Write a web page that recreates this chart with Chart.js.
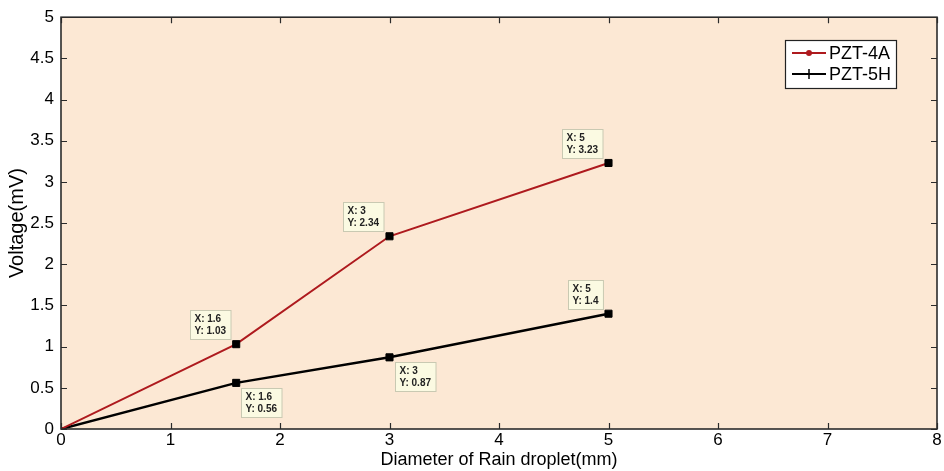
<!DOCTYPE html>
<html>
<head>
<meta charset="utf-8">
<script src="https://cdn.jsdelivr.net/npm/chart.js@4.4.1/dist/chart.umd.min.js"></script>
<style>
  html, body { margin: 0; padding: 0; background: #fff; }
  #wrap { width: 944px; height: 471px; }
</style>
</head>
<body>
<div id="wrap"><canvas id="chart"></canvas></div>
<script>
// values
const diameters = [0, 1.6, 3, 5];
const pzt4a = [0, 1.03, 2.34, 3.23];
const pzt5h = [0, 0.56, 0.87, 1.4];
const xTicks = [0, 1, 2, 3, 4, 5, 6, 7, 8];
const yTicks = [0, 0.5, 1, 1.5, 2, 2.5, 3, 3.5, 4, 4.5, 5];
const seriesNames = ['PZT-4A', 'PZT-5H'];

const RED = '#AE1A1E';
const PEACH = '#FCE8D4';

const pts = (ys) => diameters.map((x, i) => ({ x: x, y: ys[i] }));

// peach plot area behind the lines
const areaPlugin = {
  id: 'area',
  beforeDatasetsDraw(chart) {
    const { ctx, chartArea: a } = chart;
    ctx.save();
    ctx.fillStyle = PEACH;
    ctx.fillRect(a.left, a.top, a.right - a.left, a.bottom - a.top);
    ctx.restore();
  }
};

// matlab style box with inward ticks on all four sides
const boxPlugin = {
  id: 'box',
  afterDatasetsDraw(chart) {
    const { ctx, chartArea: a, scales } = chart;
    const len = 6;
    ctx.save();
    ctx.strokeStyle = '#2b2b2b';
    ctx.lineWidth = 1.2;
    ctx.beginPath();
    xTicks.forEach(v => {
      const px = Math.round(scales.x.getPixelForValue(v)) + 0.5;
      ctx.moveTo(px, a.bottom); ctx.lineTo(px, a.bottom - len);
      ctx.moveTo(px, a.top); ctx.lineTo(px, a.top + len);
    });
    yTicks.forEach(v => {
      const py = Math.round(scales.y.getPixelForValue(v)) + 0.5;
      ctx.moveTo(a.left, py); ctx.lineTo(a.left + len, py);
      ctx.moveTo(a.right, py); ctx.lineTo(a.right - len, py);
    });
    ctx.stroke();
    ctx.lineWidth = 1.6;
    ctx.strokeRect(a.left, a.top, a.right - a.left, a.bottom - a.top);
    ctx.restore();
  }
};

// data tips: small yellow boxes with X / Y values
const tipPlugin = {
  id: 'tips',
  afterDatasetsDraw(chart, args, opts) {
    const ctx = chart.ctx;
    ctx.save();
    ctx.font = 'bold 10px "Liberation Sans", Arial, sans-serif';
    ctx.textBaseline = 'middle';
    chart.data.datasets.forEach((ds, i) => {
      const meta = chart.getDatasetMeta(i);
      ds.data.forEach((p, j) => {
        const side = opts.sides[i][j];
        if (!side) return;
        const el = meta.data[j];
        const l1 = 'X: ' + p.x, l2 = 'Y: ' + p.y;
        const w = Math.max(ctx.measureText(l1).width, ctx.measureText(l2).width) + 9;
        const h = 29;
        let bx, by;
        if (side === 'ul') { bx = el.x - 6 - w; by = el.y - 5 - h; }
        else { bx = el.x + 5; by = el.y + 5; }
        bx = Math.round(bx) + 0.5; by = Math.round(by) + 0.5;
        ctx.fillStyle = '#FBFAE2';
        ctx.fillRect(bx, by, w, h);
        ctx.strokeStyle = '#C9C9B2';
        ctx.lineWidth = 1;
        ctx.strokeRect(bx, by, w, h);
        ctx.fillStyle = '#222';
        ctx.fillText(l1, bx + 4, by + 9);
        ctx.fillText(l2, bx + 4, by + 21);
      });
    });
    ctx.restore();
  }
};

// legend box in the top right corner
const legendPlugin = {
  id: 'mlegend',
  afterDraw(chart) {
    const ctx = chart.ctx;
    const x = 785, y = 40, w = 111, h = 48;
    ctx.save();
    ctx.fillStyle = '#fff';
    ctx.fillRect(x, y, w, h);
    ctx.strokeStyle = '#222';
    ctx.lineWidth = 1.2;
    ctx.strokeRect(x + 0.5, y + 0.5, w, h);
    ctx.font = '18px "Liberation Sans", Arial, sans-serif';
    ctx.textBaseline = 'middle';
    const colors = [RED, '#000'];
    seriesNames.forEach((name, i) => {
      const cy = y + 13 + i * 21;
      ctx.strokeStyle = colors[i];
      ctx.lineWidth = 2;
      ctx.beginPath();
      ctx.moveTo(x + 7, cy); ctx.lineTo(x + 41, cy);
      ctx.stroke();
      if (i === 0) {
        ctx.fillStyle = RED;
        ctx.beginPath(); ctx.arc(x + 24, cy, 3, 0, Math.PI * 2); ctx.fill();
      } else {
        ctx.lineWidth = 1.5;
        ctx.beginPath(); ctx.moveTo(x + 24, cy - 5); ctx.lineTo(x + 24, cy + 5); ctx.stroke();
      }
      ctx.fillStyle = '#000';
      ctx.fillText(name, x + 44, cy + 1);
    });
    ctx.restore();
  }
};

const tickFont = { family: '"Liberation Sans", Arial, sans-serif', size: 17 };
const titleFont = { family: '"Liberation Sans", Arial, sans-serif', size: 18 };
const yTitleFont = { family: '"Liberation Sans", Arial, sans-serif', size: 20 };

new Chart(document.getElementById('chart'), {
  type: 'scatter',
  data: {
    datasets: [{
      label: seriesNames[0],
      data: pts(pzt4a),
      showLine: true,
      borderColor: RED,
      borderWidth: 2,
      pointStyle: ['circle', 'rect', 'rect', 'rect'],
      pointRadius: [2, 5, 5, 5],
      pointBackgroundColor: [RED, '#000', '#000', '#000'],
      pointBorderColor: [RED, '#000', '#000', '#000'],
      pointBorderWidth: 1
    }, {
      label: seriesNames[1],
      data: pts(pzt5h),
      showLine: true,
      borderColor: '#000',
      borderWidth: 2.5,
      pointStyle: ['line', 'rect', 'rect', 'rect'],
      pointRotation: [90, 0, 0, 0],
      pointRadius: [4, 5, 5, 5],
      pointBackgroundColor: '#000',
      pointBorderColor: '#000',
      pointBorderWidth: 1
    }]
  },
  options: {
    responsive: true,
    maintainAspectRatio: false,
    animation: false,
    layout: { padding: { top: 16, right: 7, left: 0, bottom: 0 } },
    plugins: {
      legend: { display: false },
      tooltip: { enabled: false },
      tips: { sides: [[null, 'ul', 'ul', 'ul'], [null, 'br', 'br', 'ul']] }
    },
    scales: {
      x: {
        type: 'linear',
        min: 0,
        max: 8,
        afterBuildTicks: (s) => { s.ticks = xTicks.map(v => ({ value: v })); },
        afterFit: (s) => { s.height = 42; },
        grid: { display: false, drawTicks: false },
        border: { display: false },
        ticks: { color: '#000', font: tickFont, padding: 1, maxRotation: 0 },
        title: {
          display: true,
          text: 'Diameter of Rain droplet(mm)',
          color: '#000',
          font: titleFont,
          padding: { top: 0, bottom: 0 }
        }
      },
      y: {
        type: 'linear',
        min: 0,
        max: 5,
        afterBuildTicks: (s) => { s.ticks = yTicks.map(v => ({ value: v })); },
        afterFit: (s) => { s.width = 61; },
        grid: { display: false, drawTicks: false },
        border: { display: false },
        ticks: { color: '#000', font: tickFont, padding: 7, callback: (v) => String(v) },
        title: {
          display: true,
          text: 'Voltage(mV)',
          color: '#000',
          font: yTitleFont,
          padding: { top: 5, bottom: 0 }
        }
      }
    }
  },
  plugins: [areaPlugin, boxPlugin, tipPlugin, legendPlugin]
});
</script>
</body>
</html>
